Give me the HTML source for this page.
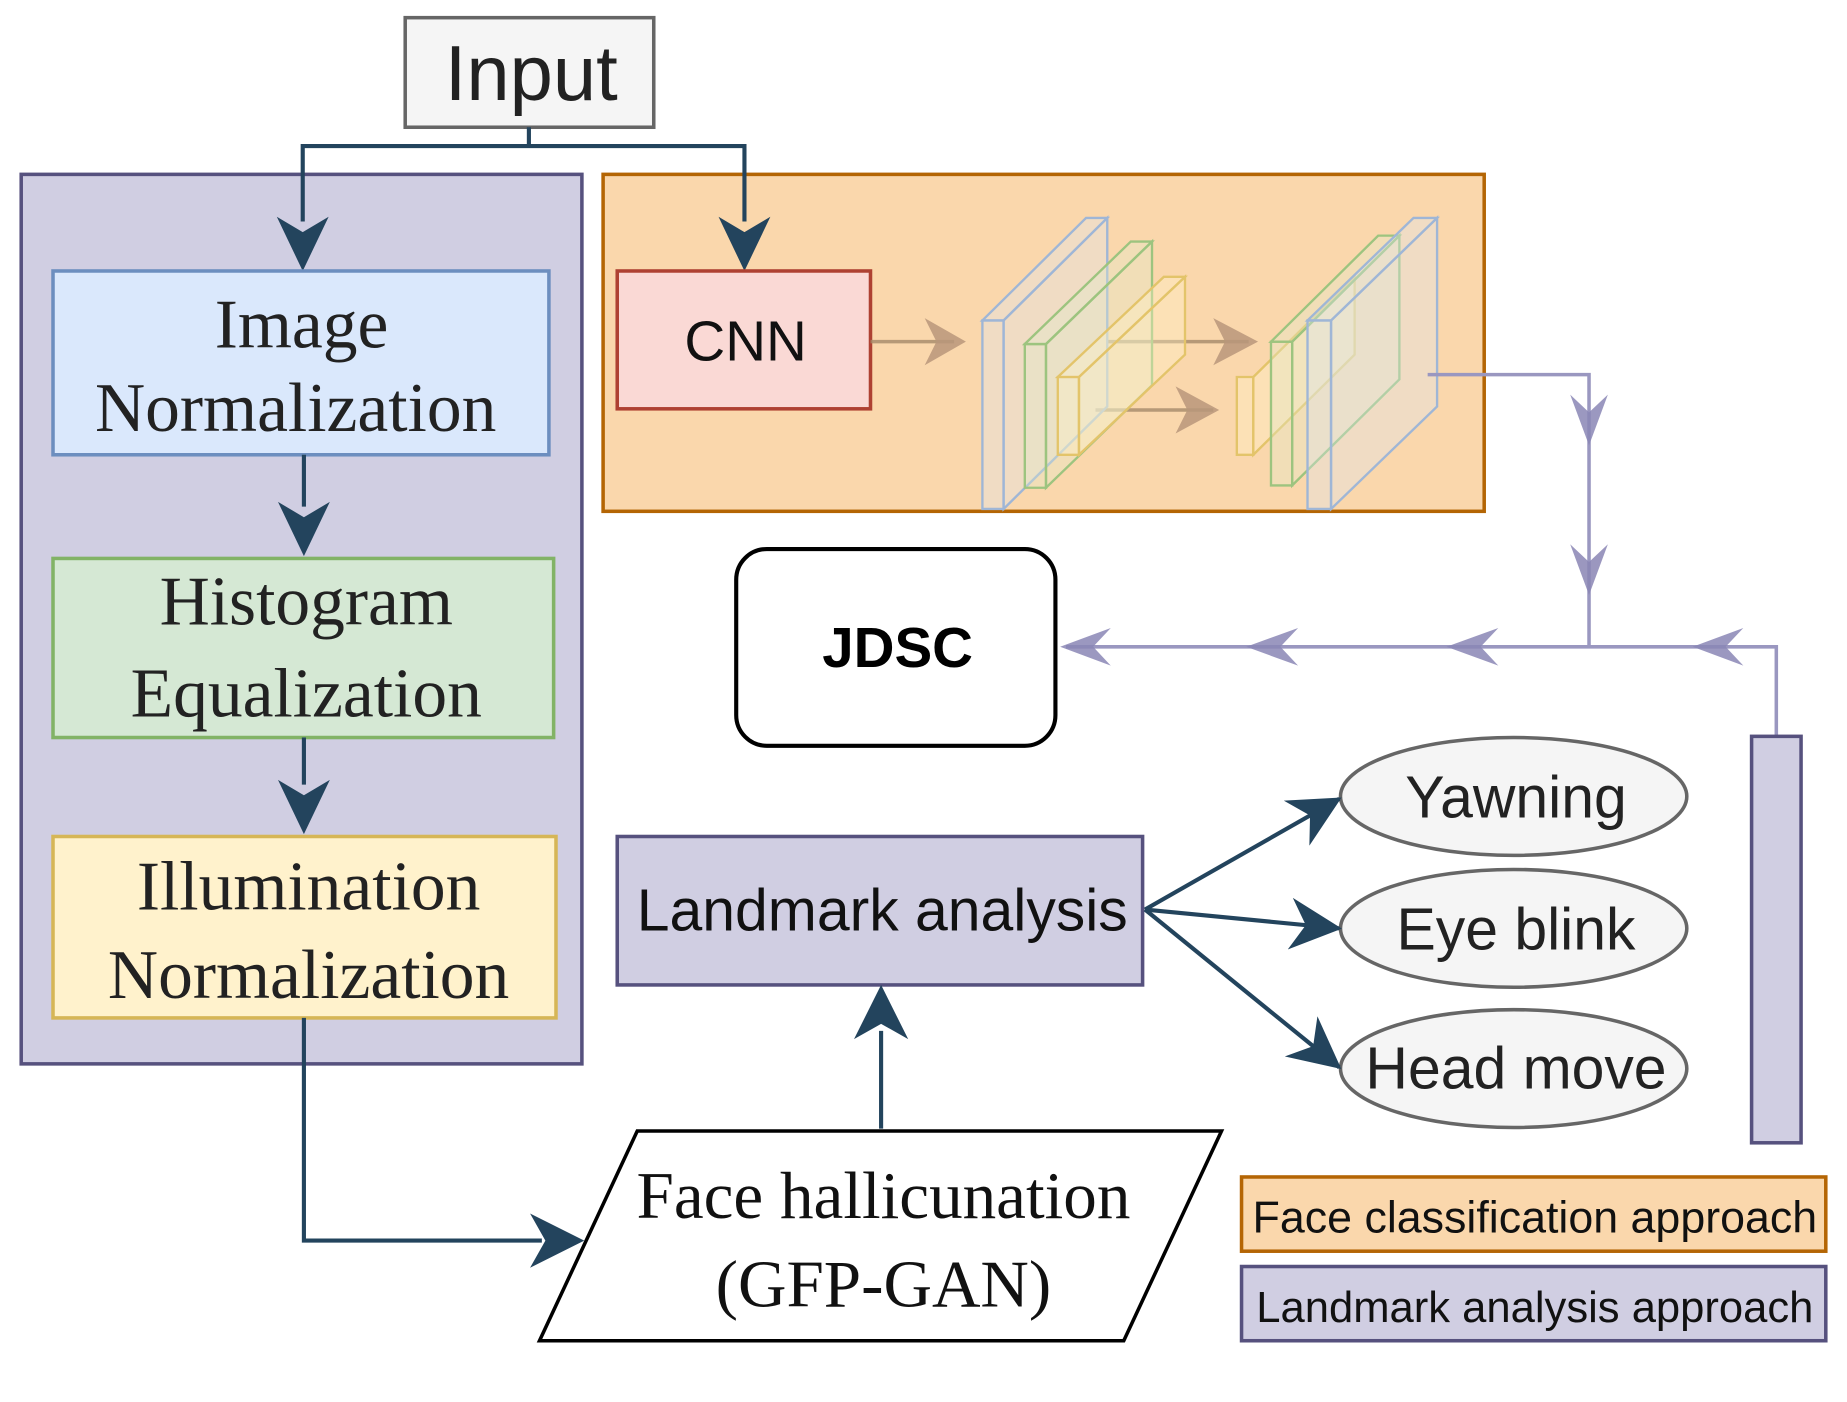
<!DOCTYPE html>
<html><head><meta charset="utf-8"><style>html,body{margin:0;padding:0;background:#fff}svg{display:block}</style></head>
<body>
<svg width="1847" height="1402" viewBox="0 0 1568 1190" preserveAspectRatio="none" xmlns="http://www.w3.org/2000/svg">
<defs>
<marker id="ab" viewBox="0 0 40 40" refX="38" refY="20" markerWidth="44" markerHeight="44" markerUnits="userSpaceOnUse" orient="auto"><path d="M0,0 L40,20 L0,40 L12,20 Z" fill="#23445d"/></marker>
</defs>
<g font-family="Liberation Sans, sans-serif">
<rect x="18" y="148" width="476" height="755" fill="#d0cee2" stroke="#56517e" stroke-width="3"/>
<rect x="512" y="148" width="748" height="286" fill="#fad7ac" stroke="#b46504" stroke-width="3"/>
<rect x="344" y="15" width="211" height="93" fill="#f5f5f5" stroke="#666" stroke-width="3"/>
<text x="451" y="85" font-size="66" text-anchor="middle" fill="#222">Input</text>
<path d="M449,108 V124 H257 V188 M449,124 H632 V188" fill="none" stroke="#23445d" stroke-width="3.5"/>
<path d="M235,184 L257,230 L279,184 L257,197 Z M610,184 L632,230 L654,184 L632,197 Z" fill="#23445d"/>
<rect x="45" y="230" width="421" height="156" fill="#dae8fc" stroke="#6c8ebf" stroke-width="3"/>
<g font-family="Liberation Serif, serif" font-size="59" text-anchor="middle" fill="#222">
<text x="256" y="295">Image</text><text x="251" y="366">Normalization</text>
</g>
<rect x="45" y="474" width="425" height="152" fill="#d5e8d4" stroke="#82b366" stroke-width="3"/>
<g font-family="Liberation Serif, serif" font-size="59" text-anchor="middle" fill="#222">
<text x="260" y="530">Histogram</text><text x="260" y="608">Equalization</text>
</g>
<rect x="45" y="710" width="427" height="154" fill="#fff2cc" stroke="#d6b656" stroke-width="3"/>
<g font-family="Liberation Serif, serif" font-size="59" text-anchor="middle" fill="#222">
<text x="262" y="772">Illumination</text><text x="262" y="847">Normalization</text>
</g>
<path d="M258,386 V430 M258,626 V666" stroke="#23445d" stroke-width="3.5"/>
<path d="M236,426 L258,472 L280,426 L258,439 Z M236,662 L258,708 L280,662 L258,675 Z" fill="#23445d"/>
<path d="M258,864 V1053 H460" fill="none" stroke="#23445d" stroke-width="3.5"/>
<path d="M450,1030 L496,1053 L450,1076 L463,1053 Z" fill="#23445d"/>
<rect x="524" y="230" width="215" height="117" fill="#fad9d5" stroke="#ae4132" stroke-width="3"/>
<text x="633" y="306" font-size="48" text-anchor="middle" fill="#111">CNN</text>
<g stroke="#a58a6a" stroke-width="3" opacity="0.8" fill="none"><path d="M739,290 H810 M940,290 H1060 M930,348 H1030"/></g>
<g fill="#b9977a" opacity="0.85"><path d="M785,270 L820,290 L785,310 L795,290 Z M1030,270 L1068,290 L1030,310 L1040,290 Z M998,328 L1035,348 L998,368 L1008,348 Z"/></g>
<g stroke-width="2" fill-opacity="0.35">
<g stroke="#9fb6d6" fill="#dde6f0"><path d="M834,272 h18 v160 h-18 Z"/><path d="M852,272 L940,185 V345 L852,432 Z"/><path d="M834,272 L922,185 H940 L852,272 Z"/></g>
<g stroke="#9dc47f" fill="#dfeccc"><path d="M870,292 h18 v122 h-18 Z"/><path d="M888,292 L978,205 V327 L888,414 Z"/><path d="M870,292 L960,205 H978 L888,292 Z"/></g>
<g stroke="#e3c46a" fill="#fff3c8"><path d="M898,320 h18 v66 h-18 Z"/><path d="M916,320 L1006,235 V301 L916,386 Z"/><path d="M898,320 L988,235 H1006 L916,320 Z"/></g>
<g stroke="#e3c46a" fill="#fff3c8"><path d="M1050,320 h14 v66 h-14 Z"/><path d="M1064,320 L1150,235 V301 L1064,386 Z"/></g>
<g stroke="#9dc47f" fill="#dfeccc"><path d="M1079,290 h18 v122 h-18 Z"/><path d="M1097,290 L1188,200 V322 L1097,412 Z"/><path d="M1079,290 L1170,200 H1188 L1097,290 Z"/></g>
<g stroke="#9fb6d6" fill="#dde6f0"><path d="M1110,272 h20 v160 h-20 Z"/><path d="M1130,272 L1220,185 V345 L1130,432 Z"/><path d="M1110,272 L1200,185 H1220 L1130,272 Z"/></g>
</g>
<g stroke="#9a97c0" stroke-width="3" fill="none"><path d="M1212,318 H1349 V549 M1508,625 V549 H905"/></g>
<g fill="#8a86b5" opacity="0.85">
<path d="M1333,335 L1349,378 L1365,335 L1349,350 Z M1333,462 L1349,505 L1365,462 L1349,477 Z"/>
<path d="M1480,533 L1437,549 L1480,565 L1465,549 Z M1272,533 L1228,549 L1272,565 L1257,549 Z M1102,533 L1058,549 L1102,565 L1087,549 Z M943,533 L900,549 L943,565 L928,549 Z"/>
</g>
<rect x="1487" y="625" width="42" height="345" fill="#d0cee2" stroke="#56517e" stroke-width="3"/>
<rect x="625" y="466" width="271" height="167" rx="26" fill="#fff" stroke="#000" stroke-width="3.5"/>
<text x="762" y="566" font-size="48" font-weight="bold" text-anchor="middle" fill="#000">JDSC</text>
<rect x="524" y="710" width="446" height="126" fill="#d0cee2" stroke="#56517e" stroke-width="3"/>
<text x="749" y="790" font-size="50" text-anchor="middle" fill="#111">Landmark analysis</text>
<g fill="#f5f5f5" stroke="#666" stroke-width="3">
<ellipse cx="1285" cy="676" rx="147" ry="50"/><ellipse cx="1285" cy="788" rx="147" ry="50"/><ellipse cx="1285" cy="907" rx="147" ry="50"/>
</g>
<g font-size="50" text-anchor="middle" fill="#222">
<text x="1287" y="694">Yawning</text><text x="1287" y="806">Eye blink</text><text x="1287" y="924">Head move</text>
</g>
<g stroke="#23445d" stroke-width="3.5" fill="none" marker-end="url(#ab)">
<path d="M972,772 L1137,678"/><path d="M972,772 L1137,788"/><path d="M972,772 L1137,906"/>
</g>
<path d="M748,958 V875" stroke="#23445d" stroke-width="3.5"/>
<path d="M725,882 L748,836 L771,882 L748,869 Z" fill="#23445d"/>
<polygon points="458,1138 541,960 1037,960 954,1138" fill="#fff" stroke="#000" stroke-width="3"/>
<g font-family="Liberation Serif, serif" font-size="57" text-anchor="middle" fill="#111">
<text x="750" y="1034">Face hallicunation</text><text x="750" y="1109">(GFP-GAN)</text>
</g>
<rect x="1054" y="999" width="496" height="63" fill="#fad7ac" stroke="#b46504" stroke-width="3"/>
<text x="1303" y="1046" font-size="38" text-anchor="middle" fill="#111">Face classification approach</text>
<rect x="1054" y="1075" width="496" height="63" fill="#d0cee2" stroke="#56517e" stroke-width="3"/>
<text x="1303" y="1122" font-size="37" text-anchor="middle" fill="#111">Landmark analysis approach</text>
</g>
</svg>
</body></html>
